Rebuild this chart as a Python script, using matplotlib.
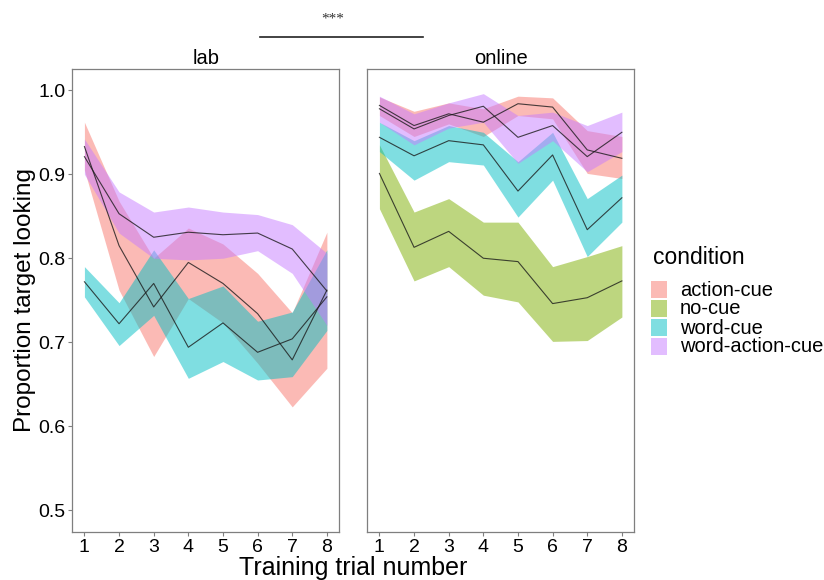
import matplotlib
matplotlib.use("Agg")
import matplotlib.pyplot as plt
from matplotlib.patches import Rectangle

plt.rcParams['font.family'] = ['Liberation Sans', 'DejaVu Sans']

trials = [1, 2, 3, 4, 5, 6, 7, 8]
conditions = ["action-cue", "no-cue", "word-cue", "word-action-cue"]
colors = ["#F8766D", "#7CAE00", "#00BFC4", "#C77CFF"]
panels = ["lab", "online"]

# lab
lab_action_mean = [0.933, 0.815, 0.742, 0.795, 0.770, 0.734, 0.679, 0.762]
lab_action_lo   = [0.905, 0.762, 0.683, 0.752, 0.723, 0.675, 0.623, 0.669]
lab_action_hi   = [0.962, 0.868, 0.800, 0.836, 0.817, 0.782, 0.735, 0.831]
lab_word_mean   = [0.772, 0.722, 0.770, 0.694, 0.723, 0.688, 0.704, 0.754]
lab_word_lo     = [0.754, 0.696, 0.732, 0.657, 0.677, 0.655, 0.659, 0.714]
lab_word_hi     = [0.790, 0.747, 0.810, 0.752, 0.767, 0.725, 0.736, 0.810]
lab_wa_mean     = [0.921, 0.853, 0.825, 0.831, 0.828, 0.830, 0.811, 0.761]
lab_wa_lo       = [0.900, 0.830, 0.800, 0.798, 0.800, 0.809, 0.782, 0.720]
lab_wa_hi       = [0.942, 0.879, 0.855, 0.861, 0.855, 0.852, 0.840, 0.806]

# online
onl_action_mean = [0.982, 0.958, 0.972, 0.962, 0.984, 0.980, 0.929, 0.919]
onl_action_lo   = [0.970, 0.945, 0.960, 0.945, 0.970, 0.966, 0.901, 0.895]
onl_action_hi   = [0.992, 0.975, 0.985, 0.978, 0.993, 0.991, 0.952, 0.945]
onl_no_mean     = [0.901, 0.813, 0.832, 0.800, 0.796, 0.746, 0.753, 0.773]
onl_no_lo       = [0.859, 0.773, 0.790, 0.756, 0.748, 0.701, 0.702, 0.730]
onl_no_hi       = [0.935, 0.855, 0.871, 0.843, 0.843, 0.790, 0.802, 0.815]
onl_word_mean   = [0.944, 0.922, 0.940, 0.935, 0.880, 0.923, 0.834, 0.872]
onl_word_lo     = [0.927, 0.893, 0.915, 0.911, 0.849, 0.893, 0.802, 0.843]
onl_word_hi     = [0.962, 0.940, 0.958, 0.950, 0.915, 0.950, 0.871, 0.899]
onl_wa_mean     = [0.978, 0.954, 0.970, 0.981, 0.944, 0.958, 0.921, 0.950]
onl_wa_lo       = [0.962, 0.935, 0.955, 0.962, 0.913, 0.940, 0.903, 0.927]
onl_wa_hi       = [0.993, 0.972, 0.985, 0.996, 0.970, 0.974, 0.958, 0.974]

yticks = [0.5, 0.6, 0.7, 0.8, 0.9, 1.0]
ytick_labels = ["0.5", "0.6", "0.7", "0.8", "0.9", "1.0"]

data = {
    "lab": [
        ("action-cue", lab_action_mean, lab_action_lo, lab_action_hi),
        ("word-cue", lab_word_mean, lab_word_lo, lab_word_hi),
        ("word-action-cue", lab_wa_mean, lab_wa_lo, lab_wa_hi),
    ],
    "online": [
        ("action-cue", onl_action_mean, onl_action_lo, onl_action_hi),
        ("no-cue", onl_no_mean, onl_no_lo, onl_no_hi),
        ("word-cue", onl_word_mean, onl_word_lo, onl_word_hi),
        ("word-action-cue", onl_wa_mean, onl_wa_lo, onl_wa_hi),
    ],
}
cmap = dict(zip(conditions, colors))

fig = plt.figure(figsize=(8.24, 5.8), dpi=100)
W, H = 824, 580
ax_bottom = 1 - 532 / H
ax_h = (532 - 69.3) / H
lefts = [72.3 / W, 367.3 / W]
ax_w = (339 - 72.3) / W

grey = "#7f7f7f"
for i, panel in enumerate(panels):
    ax = fig.add_axes([lefts[i], ax_bottom, ax_w, ax_h])
    for cond, m, lo, hi in data[panel]:
        ax.fill_between(trials, lo, hi, color=cmap[cond], alpha=0.5, linewidth=0)
    for cond, m, lo, hi in data[panel]:
        ax.plot(trials, m, color="#1a1a1a", lw=0.8, alpha=0.8)
    ax.set_xlim(0.65, 8.35)
    ax.set_ylim(0.474, 1.025)
    ax.set_xticks(trials)
    ax.set_xticklabels([str(t) for t in trials], fontsize=14)
    ax.set_yticks(yticks)
    if i == 0:
        ax.set_yticklabels(ytick_labels, fontsize=14)
        ax.tick_params(axis="y", length=3, color=grey, pad=2)
    else:
        ax.set_yticklabels([])
        ax.tick_params(axis="y", length=0)
    ax.tick_params(axis="x", length=3, color=grey, pad=2)
    for s in ax.spines.values():
        s.set_color(grey)
        s.set_linewidth(0.9)
    ax.set_title(panel, fontsize=14.5, pad=4)

fig.text(25 / W, 1 - 300 / H, "Proportion target looking", rotation=90,
         fontsize=17.5, ha="center", va="center")
fig.text(353 / W, (580 - 575) / H, "Training trial number", fontsize=18,
         ha="center", va="baseline")

# significance marker
fig.add_artist(plt.Line2D([260 / W, 423 / W], [1 - 37 / H, 1 - 37 / H],
                          color="#222222", lw=1.2))
fig.text(333 / W, 1 - 19 / H, "***", fontsize=11, ha="center", va="center",
         family=["Liberation Serif", "DejaVu Serif"], color="#333333")

# legend (manual, ggplot-like)
fig.text(653 / W, 1 - 258 / H, "condition", fontsize=16.5, ha="left", va="center")
key_top = 281
key_step = 19
for k, (cond, col) in enumerate(zip(conditions, colors)):
    top = key_top + k * key_step
    fig.add_artist(Rectangle((651 / W, 1 - (top + 17) / H), 16 / W, 17 / H,
                             transform=fig.transFigure, facecolor=col,
                             alpha=0.5, edgecolor="none"))
    fig.text(680 / W, 1 - (top + 9) / H, cond, fontsize=14.5, ha="left",
             va="center")

fig.savefig("out.png", dpi=100)
